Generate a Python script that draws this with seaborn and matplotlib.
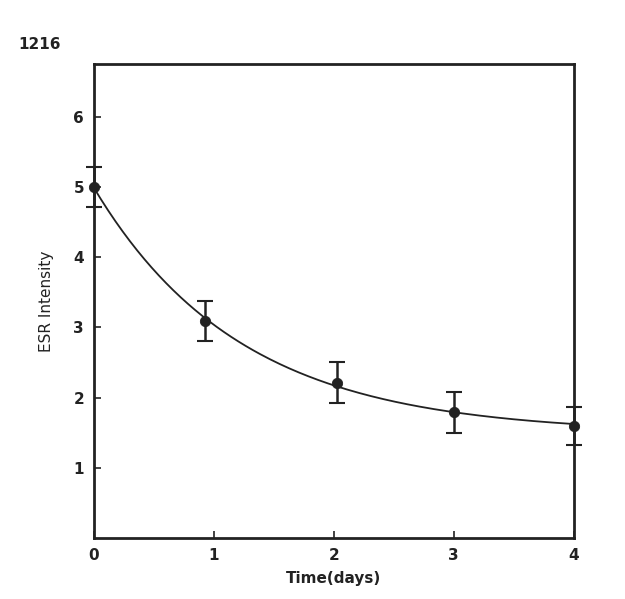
import numpy as np
import pandas as pd
import matplotlib
matplotlib.use("Agg")
import matplotlib.pyplot as plt
import seaborn as sns

# Data
time_days = [0.0, 0.93, 2.03, 3.0, 4.0]
esr_intensity = [5.0, 3.09, 2.21, 1.79, 1.6]
esr_error = [0.28, 0.29, 0.29, 0.29, 0.27]
x_ticks = [0, 1, 2, 3, 4]
y_ticks = [1, 2, 3, 4, 5, 6]

sns.set_theme(style="white")
plt.rcParams['font.family'] = ['DejaVu Sans']

df = pd.DataFrame({"t": time_days, "y": esr_intensity, "err": esr_error})

# Exponential decay fit y = c + a*exp(-k t) derived from the data
t = np.array(time_days)
y = np.array(esr_intensity)
best = None
for k in np.linspace(0.1, 3.0, 2901):
    A = np.vstack([np.ones_like(t), np.exp(-k * t)]).T
    coef, res, *_ = np.linalg.lstsq(A, y, rcond=None)
    r = np.sum((A @ coef - y) ** 2)
    if best is None or r < best[0]:
        best = (r, k, coef)
_, kf, (cf, af) = best
tt = np.linspace(0, 4, 200)
fit = pd.DataFrame({"t": tt, "y": cf + af * np.exp(-kf * tt)})

fig = plt.figure(figsize=(6.25, 5.99), dpi=100)
ax = fig.add_axes([0.150, 0.102, 0.768, 0.791])

sns.lineplot(data=fit, x="t", y="y", ax=ax, color="#222222", linewidth=1.3)
ax.errorbar(df["t"], df["y"], yerr=df["err"], fmt="none", ecolor="#222222",
            elinewidth=1.8, capsize=6, capthick=1.5, clip_on=False, zorder=3)
sns.scatterplot(data=df, x="t", y="y", ax=ax, color="#222222", s=55,
                edgecolor="#222222", zorder=4, clip_on=False)

ax.set_xlim(0, 4)
ax.set_ylim(0, 6.75)
ax.set_xticks(x_ticks)
ax.set_yticks(y_ticks)
ax.set_xticklabels([str(v) for v in x_ticks], fontsize=11, fontweight="bold", color="#222222")
ax.set_yticklabels([str(v) for v in y_ticks], fontsize=11, fontweight="bold", color="#222222")
ax.tick_params(direction="in", length=5, width=1.2, colors="#222222", left=True, bottom=True, pad=7)
ax.set_xlabel("Time(days)", fontsize=11, fontweight="bold", color="#222222", labelpad=6)
ax.set_ylabel("ESR Intensity", fontsize=11, color="#222222", labelpad=14)
for s in ax.spines.values():
    s.set_linewidth(2.0)
    s.set_color("#222222")
    s.set_visible(True)

fig.text(0.029, 0.918, "1216", fontsize=11, fontweight="bold", color="#222222")

fig.savefig("out.png", dpi=100, facecolor="white")
